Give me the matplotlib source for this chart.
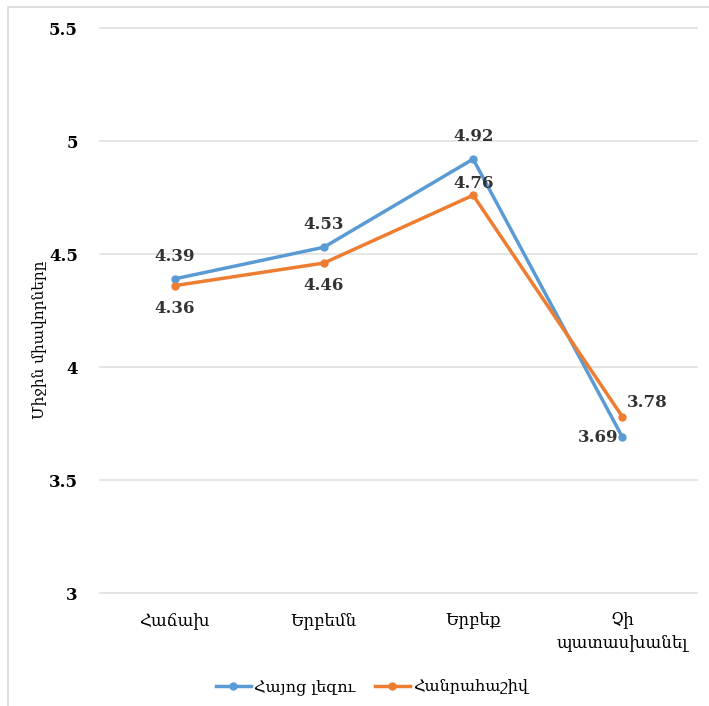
import matplotlib

matplotlib.use("Agg")
import matplotlib.pyplot as plt  # noqa: E402
from matplotlib.patches import Rectangle  # noqa: E402

# Data
categories = ["Հաճախ", "Երբեմն", "Երբեք", "Չի\nպատասխանել"]
series_names = ["Հայոց լեզու", "Հանրահաշիվ"]
armenian_vals = [4.39, 4.53, 4.92, 3.69]
algebra_vals = [4.36, 4.46, 4.76, 3.78]
y_ticks = [3, 3.5, 4, 4.5, 5, 5.5]
y_tick_labels = ["3", "3.5", "4", "4.5", "5", "5.5"]

BLUE = "#5B9BD5"
ORANGE = "#ED7D31"
GRID = "#E0E0E0"
TEXT = "#333333"
SERIF = ["DejaVu Serif", "DejaVu Sans"]

W, H = 709, 706
fig = plt.figure(figsize=(W / 100, H / 100), dpi=100)
fig.patch.set_facecolor("white")

# outer chart frame (extends past the right and bottom edge)
fig.patches.append(
    Rectangle((8 / W, -0.1), 1.2, 1 - 7 / H + 0.1, transform=fig.transFigure,
              fill=False, edgecolor="#D9D9D9", linewidth=1.2)
)

ax = fig.add_axes([100 / W, 1 - 593 / H, 597 / W, 565 / H])
x = range(len(categories))

ax.plot(x, armenian_vals, "o-", color=BLUE, linewidth=2.5, markersize=5,
        label=series_names[0], zorder=3)
ax.plot(x, algebra_vals, "o-", color=ORANGE, linewidth=2.5, markersize=5,
        label=series_names[1], zorder=3)

ax.set_xlim(-0.5, len(categories) - 0.5)
ax.set_ylim(3, 5.5)
ax.set_yticks(y_ticks)
ax.set_yticklabels(y_tick_labels, fontsize=12, fontweight="bold",
                   family=SERIF, color="black")
ax.set_xticks(list(x))
ax.set_xticklabels(categories, fontsize=12, family=SERIF, color="black",
                   linespacing=1.35)
ax.tick_params(axis="y", length=0, pad=16)
ax.tick_params(axis="x", length=0, pad=14)
for s in ax.spines.values():
    s.set_visible(False)
ax.yaxis.grid(True, color=GRID, linewidth=1.2)
for gl in ax.get_ygridlines():
    gl.set_clip_on(False)
ax.set_axisbelow(True)

# data labels: (dx, dy) offsets in points
blue_offsets = [(0, 10), (0, 10), (0, 10), (-3, 0)]
orange_offsets = [(0, -10), (0, -10), (0, 2), (3, 4)]
blue_align = [("center", "bottom")] * 3 + [("right", "center")]
orange_align = [("center", "top")] * 2 + [("center", "bottom"), ("left", "bottom")]

for i, v in enumerate(armenian_vals):
    ha, va = blue_align[i]
    ax.annotate(f"{v:.2f}", (i, v), xytext=blue_offsets[i],
                textcoords="offset points", ha=ha, va=va, fontsize=12,
                fontweight="bold", family=SERIF, color=TEXT)
for i, v in enumerate(algebra_vals):
    ha, va = orange_align[i]
    ax.annotate(f"{v:.2f}", (i, v), xytext=orange_offsets[i],
                textcoords="offset points", ha=ha, va=va, fontsize=12,
                fontweight="bold", family=SERIF, color=TEXT)

fig.text(40 / W, 1 - 340 / H, "Միջին միավորները", rotation=90,
         ha="center", va="center", fontsize=11, family=SERIF, color="black")

fig.legend(loc="center", bbox_to_anchor=(372 / W, 1 - 687 / H), ncol=2,
           frameon=False, prop={"family": SERIF, "size": 11.5},
           handlelength=2.2, handletextpad=0.2, columnspacing=1.2)

fig.savefig("out.png", dpi=100, facecolor="white")
